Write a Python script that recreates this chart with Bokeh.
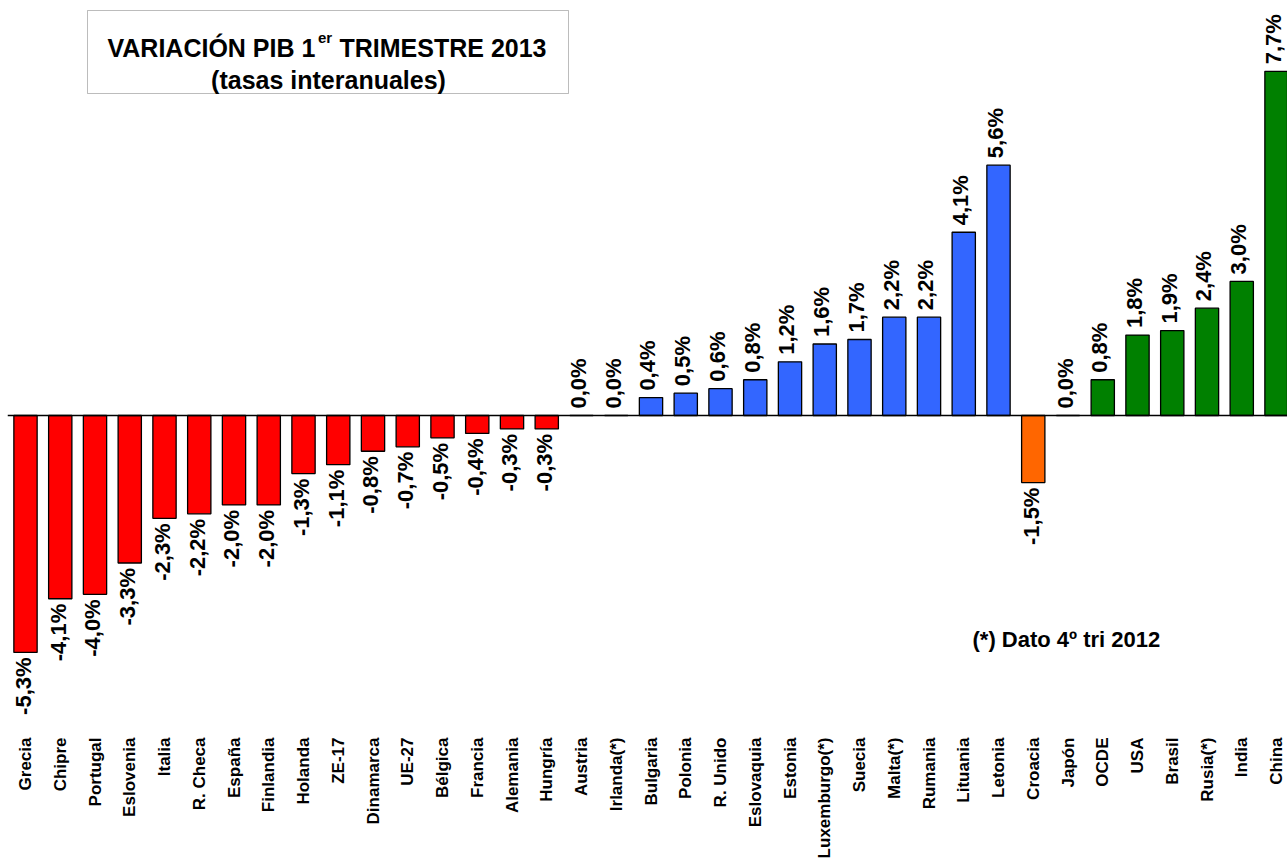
import math
from bokeh.plotting import figure
from bokeh.models import (ColumnDataSource, Range1d, FixedTicker, LabelSet, Label,
                          Span, BoxAnnotation)
from bokeh.core.properties import value
from bokeh.embed import file_html
from bokeh.resources import INLINE

# ---------------- data ----------------
countries = ["Grecia", "Chipre", "Portugal", "Eslovenia", "Italia", "R. Checa", "España",
             "Finlandia", "Holanda", "ZE-17", "Dinamarca", "UE-27", "Bélgica", "Francia",
             "Alemania", "Hungría", "Austria", "Irlanda(*)", "Bulgaria", "Polonia",
             "R. Unido", "Eslovaquia", "Estonia", "Luxemburgo(*)", "Suecia", "Malta(*)",
             "Rumania", "Lituania", "Letonia", "Croacia", "Japón", "OCDE", "USA", "Brasil",
             "Rusia(*)", "India", "China"]
values = [-5.3, -4.1, -4.0, -3.3, -2.3, -2.2, -2.0, -2.0, -1.3, -1.1, -0.8, -0.7, -0.5,
          -0.4, -0.3, -0.3, 0.0, 0.0, 0.4, 0.5, 0.6, 0.8, 1.2, 1.6, 1.7, 2.2, 2.2, 4.1,
          5.6, -1.5, 0.0, 0.8, 1.8, 1.9, 2.4, 3.0, 7.7]
groups = (["ue_neg"] * 16 + ["ue_pos"] * 13 + ["croacia"] + ["resto"] * 7)
group_colors = {"ue_neg": "#FF0000", "ue_pos": "#3366FF", "croacia": "#FF6600", "resto": "#008000"}
title_main = "VARIACIÓN PIB 1"
title_sup = "er"
title_rest = "TRIMESTRE 2013"
title_sub = "(tasas interanuales)"
note = "(*) Dato 4º tri 2012"

# ---------------- layout helpers ----------------
W, H = 1287, 862
LEFT = 7             # page x of frame left edge
PX_X = 34.75         # pixels per category
FIRST_PX = 25        # page x of first category centre
ZERO_PY = 415        # page y of zero line
PX_Y = 44.7          # pixels per percentage point
FRAME_BOTTOM = 725   # page y of frame bottom


def sx(px):
    return (px - FIRST_PX) / PX_X


def sy(py):
    return (ZERO_PY - py) / PX_Y


FONT = "Liberation Sans"

xs = list(range(len(countries)))
labels = [("%.1f" % v).replace(".", ",") + "%" for v in values]
colors = [group_colors[g] for g in groups]

src = ColumnDataSource(dict(x=xs, v=values, c=colors))
pos_idx = [i for i, v in enumerate(values) if v >= 0]
neg_idx = [i for i, v in enumerate(values) if v < 0]
src_pos = ColumnDataSource(dict(x=[xs[i] for i in pos_idx], v=[values[i] for i in pos_idx],
                                t=[labels[i] for i in pos_idx]))
src_neg = ColumnDataSource(dict(x=[xs[i] for i in neg_idx], v=[values[i] for i in neg_idx],
                                t=[labels[i] for i in neg_idx]))

p = figure(width=W, height=H, output_backend="svg", toolbar_location=None,
           x_range=Range1d(sx(LEFT), sx(W)), y_range=Range1d(sy(FRAME_BOTTOM), sy(0)),
           min_border_left=LEFT, min_border_right=0, min_border_top=0,
           min_border_bottom=H - FRAME_BOTTOM)
p.outline_line_color = None
p.background_fill_color = "white"
p.border_fill_color = "white"
p.grid.visible = False
p.yaxis.visible = False

p.vbar(x="x", top="v", bottom=0, width=0.67, fill_color="c", line_color="black",
       line_width=1.3, source=src)

p.add_layout(Span(location=0, dimension="width", line_color="black", line_width=1.5))

p.add_layout(LabelSet(x="x", y="v", text="t", source=src_pos, angle=math.pi / 2,
                      text_align="left", text_baseline="middle", y_offset=7, x_offset=-3,
                      text_font=value(FONT), text_font_style="bold",
                      text_font_size="22px", text_color="black"))
p.add_layout(LabelSet(x="x", y="v", text="t", source=src_neg, angle=math.pi / 2,
                      text_align="right", text_baseline="middle", y_offset=-5, x_offset=-2,
                      text_font=value(FONT), text_font_style="bold",
                      text_font_size="22px", text_color="black"))

ax = p.xaxis[0]
ax.ticker = FixedTicker(ticks=xs)
ax.major_label_overrides = {i: n for i, n in zip(xs, countries)}
ax.major_label_orientation = math.pi / 2
ax.axis_line_color = None
ax.major_tick_line_color = None
ax.minor_tick_line_color = None
ax.major_tick_out = 0
ax.major_tick_in = 0
ax.minor_tick_out = 0
ax.minor_tick_in = 0
ax.major_label_standoff = 12
ax.major_label_text_font = FONT
ax.major_label_text_font_style = "bold"
ax.major_label_text_font_size = "17px"
ax.major_label_text_color = "black"

# title box
p.add_layout(BoxAnnotation(left=sx(87), right=sx(568), top=sy(10), bottom=sy(93),
                           fill_color="white", fill_alpha=1.0, line_color="#222222",
                           line_width=1, level="annotation"))
tx = 107
p.add_layout(Label(x=sx(tx), y=sy(47), text=title_main, text_font=FONT,
                   text_font_style="bold", text_font_size="25px", text_align="left",
                   text_baseline="alphabetic", text_color="black"))
p.add_layout(Label(x=sx(tx + 210.5), y=sy(37), text=title_sup, text_font=FONT,
                   text_font_style="bold", text_font_size="15px", text_align="left",
                   text_baseline="alphabetic", text_color="black"))
p.add_layout(Label(x=sx(tx + 232), y=sy(47), text=title_rest, text_font=FONT,
                   text_font_style="bold", text_font_size="25px", text_align="left",
                   text_baseline="alphabetic", text_color="black"))
p.add_layout(Label(x=sx(328), y=sy(79), text=title_sub, text_font=FONT,
                   text_font_style="bold", text_font_size="25px", text_align="center",
                   text_baseline="alphabetic", text_color="black"))

p.add_layout(Label(x=sx(972), y=sy(639), text=note, text_font=FONT,
                   text_font_style="bold", text_font_size="22px", text_align="left",
                   text_baseline="alphabetic", text_color="black"))

open("out.html", "w").write(file_html(p, INLINE))
